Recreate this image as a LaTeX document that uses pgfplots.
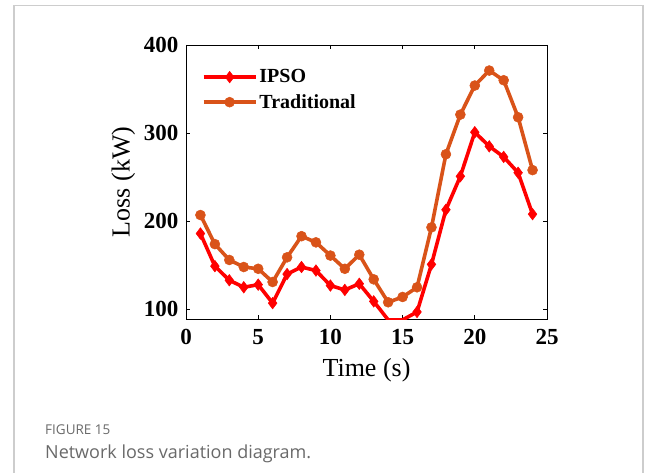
\documentclass[border=0pt]{standalone}
\usepackage{pgfplots}
\pgfplotsset{compat=1.18}
\usepackage{fontspec}
\setmainfont{Liberation Serif}
\newfontfamily\capfont{Open Sans}
\definecolor{cIPSO}{RGB}{255,0,0}
\definecolor{cTRAD}{RGB}{217,83,25}
\definecolor{frame}{RGB}{205,205,205}
\definecolor{capgray}{RGB}{105,105,105}

\pgfplotstableread{
t ipso trad
1 186 207
2 149 174
3 133 156
4 125 148
5 128 146
6 107 131
7 140 159
8 148 183
9 144 176
10 127 161
11 122 146
12 129 162
13 109 134
14 88 108
15 88 114
16 97 125
17 151 193
18 213 276
19 251 321
20 301 354
21 285 371
22 273 360
23 255 318
24 208 258
}\losstable

\begin{document}
\begin{tikzpicture}[x=1pt,y=1pt]
\useasboundingbox (0,0) rectangle (656,472);
\draw[frame, line width=1.5pt] (14,-5) -- (14,466.5) -- (643,466.5) -- (643,-5);
\begin{axis}[
  at={(186pt,153pt)}, anchor=south west,
  scale only axis, width=361pt, height=274pt,
  xmin=0, xmax=25, ymin=89, ymax=400,
  xtick={0,5,...,25}, ytick={100,200,300,400},
  tick align=inside, major tick length=4pt,
  axis line style={line width=0.8pt}, every tick/.style={line width=0.8pt, black},
  /pgf/number format/assume math mode=true,
  tick label style={font=\fontsize{23}{23}\selectfont\bfseries},
  xticklabel style={yshift=-7pt},
  yticklabel style={xshift=-4pt},
  label style={font=\fontsize{26}{26}\selectfont},
  xlabel={Time (s)}, ylabel={Loss (kW)},
  xlabel style={yshift=-7pt}, ylabel style={yshift=2pt},
  legend style={at={(0.035,0.925)}, anchor=north west, draw=none, fill=none,
    font=\fontsize{20}{24}\selectfont\bfseries, row sep=6pt},
  legend cell align=left,
  legend image code/.code={\draw[mark repeat=2,mark phase=2] plot coordinates {(0pt,0pt)(26pt,0pt)(52pt,0pt)};},
]
\addplot[cIPSO, line width=3.6pt, mark=diamond*, mark size=5.8pt, mark options={solid, line width=0.5pt, fill=cIPSO}] table[x=t,y=ipso] {\losstable};
\addlegendentry{IPSO}
\addplot[cTRAD, line width=3.6pt, mark=*, mark size=5pt, mark options={solid, line width=0.5pt, fill=cTRAD}] table[x=t,y=trad] {\losstable};
\addlegendentry{Traditional}
\end{axis}
\node[anchor=base west, inner sep=0pt, text=capgray, font=\capfont\fontsize{13.5}{15}\selectfont] at (45,38) {FIGURE 15};
\node[anchor=base west, inner sep=0pt, text=capgray, font=\capfont\fontsize{18}{20}\selectfont] at (45,14) {Network loss variation diagram.};
\end{tikzpicture}
\end{document}
